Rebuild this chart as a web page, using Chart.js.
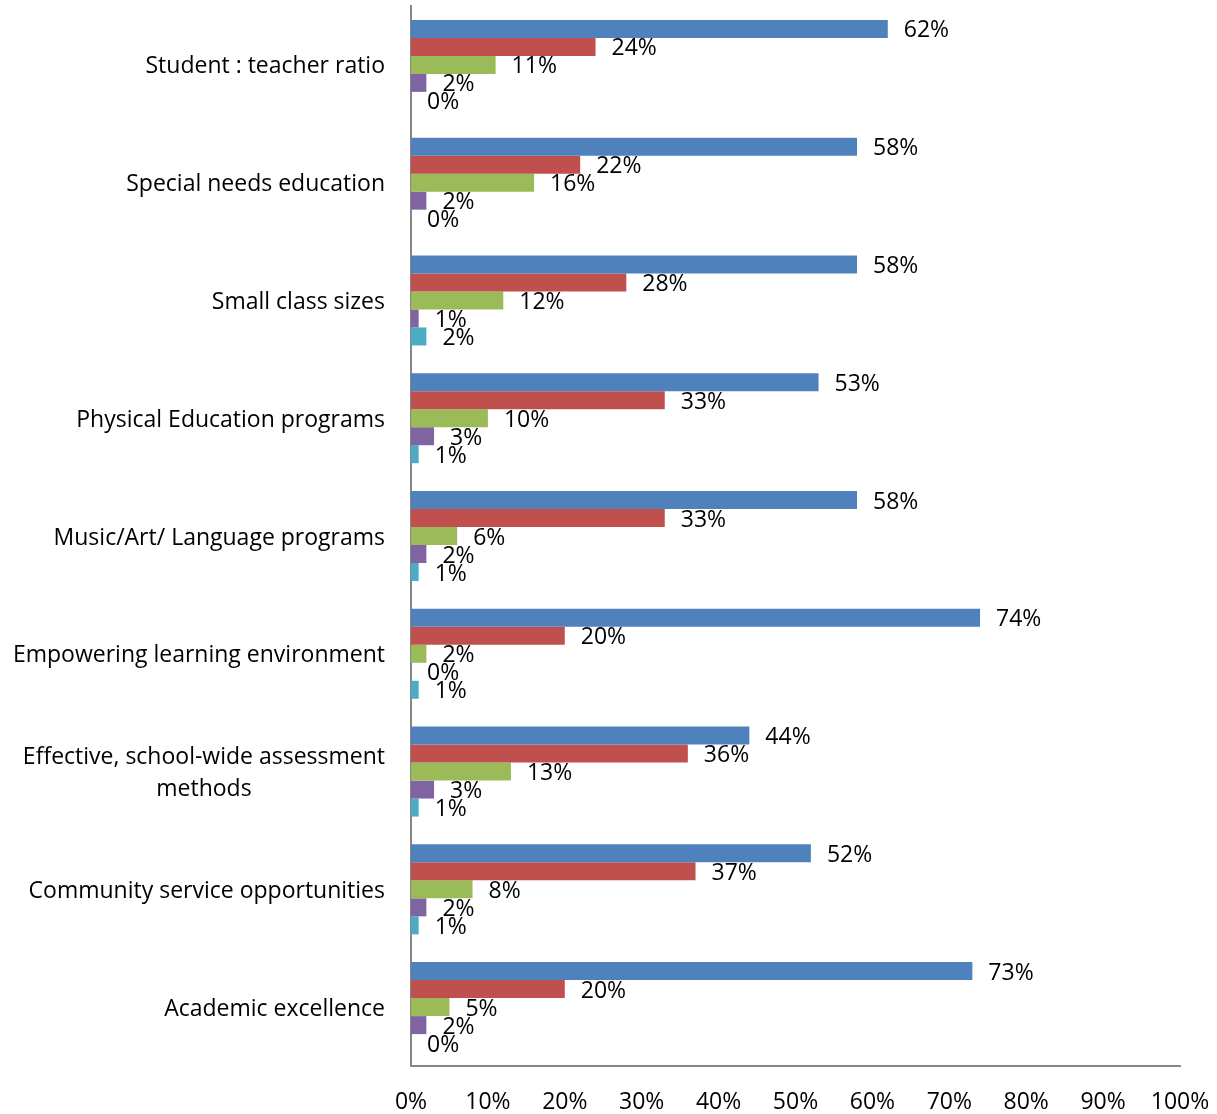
<!DOCTYPE html>
<html lang="en">
<head>
  <meta charset="utf-8">
  <title>School features</title>
  <style>
    html, body { margin: 0; padding: 0; background: #fff; }
    #wrap { width: 1217px; height: 1114px; }
  </style>
</head>
<body>
  <div id="wrap"><canvas id="myChart" width="1217" height="1114"></canvas></div>

  <script src="https://cdn.jsdelivr.net/npm/chart.js@4.4.1/dist/chart.umd.min.js"></script>
  <script>
    // categories, top to bottom
    var categories = [
      'Student : teacher ratio',
      'Special needs education',
      'Small class sizes',
      'Physical Education programs',
      'Music/Art/ Language programs',
      'Empowering learning environment',
      ['Effective, school-wide assessment', 'methods'],
      'Community service opportunities',
      'Academic excellence'
    ];

    // five response series (percent)
    var series1 = [62, 58, 58, 53, 58, 74, 44, 52, 73];
    var series2 = [24, 22, 28, 33, 33, 20, 36, 37, 20];
    var series3 = [11, 16, 12, 10, 6, 2, 13, 8, 5];
    var series4 = [2, 2, 1, 3, 2, 0, 3, 2, 2];
    var series5 = [0, 0, 2, 1, 1, 1, 1, 1, 0];

    var colors = ['#4F81BD', '#C0504D', '#9BBB59', '#8064A2', '#4BACC6'];
    var allSeries = [series1, series2, series3, series4, series5];

    var fontFamily = '"Open Sans", Lato, sans-serif';
    var fontSize = 23;

    // labels to the right of every bar + category labels
    var barLabels = {
      id: 'barLabels',
      afterDatasetsDraw: function(chart) {
        var ctx = chart.ctx;
        ctx.save();
        ctx.font = fontSize + 'px ' + fontFamily;
        ctx.fillStyle = '#000';
        ctx.textAlign = 'left';
        ctx.textBaseline = 'middle';
        chart.data.datasets.forEach(function(ds, i) {
          var meta = chart.getDatasetMeta(i);
          meta.data.forEach(function(el, j) {
            ctx.fillText(ds.data[j] + '%', el.x + 16, el.y + 2);
          });
        });

        // category labels: single lines right aligned, wrapped ones centred as a block
        var yScale = chart.scales.y;
        var rightEdge = yScale.right - 26;
        categories.forEach(function(cat, i) {
          var y = yScale.getPixelForValue(i) + 2;
          if (Array.isArray(cat)) {
            var w = Math.max.apply(null, cat.map(function(t) { return ctx.measureText(t).width; }));
            var cx = rightEdge - w / 2;
            var lh = 32;
            ctx.textAlign = 'center';
            cat.forEach(function(t, k) {
              ctx.fillText(t, cx, y + (k - (cat.length - 1) / 2) * lh);
            });
          } else {
            ctx.textAlign = 'right';
            ctx.fillText(cat, rightEdge, y);
          }
        });
        ctx.restore();
      }
    };

    var ctx = document.getElementById('myChart').getContext('2d');
    var myChart = new Chart(ctx, {
      type: 'bar',
      data: {
        labels: categories,
        datasets: allSeries.map(function(s, i) {
          return {
            label: 'Series ' + (i + 1),
            data: s,
            backgroundColor: colors[i],
            borderWidth: 0,
            barPercentage: 1,
            categoryPercentage: 0.764
          };
        })
      },
      options: {
        indexAxis: 'y',
        responsive: false,
        animation: false,
        layout: { padding: { top: 6, right: 37, bottom: 0, left: 0 } },
        plugins: {
          legend: { display: false },
          tooltip: { enabled: false }
        },
        scales: {
          x: {
            min: 0,
            max: 100,
            ticks: {
              stepSize: 10,
              padding: 23,
              color: '#000',
              font: { family: fontFamily, size: fontSize },
              callback: function(v) { return v + '%'; }
            },
            grid: { display: false, drawTicks: false },
            border: { display: true, color: '#868686', width: 2 },
            afterFit: function(scale) {
              scale.height = 48;
              scale.paddingLeft = 0;
              scale.paddingRight = 0;
            }
          },
          y: {
            ticks: { display: false },
            grid: { display: false, drawTicks: false },
            border: { display: true, color: '#868686', width: 2 },
            afterFit: function(scale) {
              scale.width = 411;
              scale.paddingTop = 0;
              scale.paddingBottom = 0;
            }
          }
        }
      },
      plugins: [barLabels]
    });
  </script>
</body>
</html>
